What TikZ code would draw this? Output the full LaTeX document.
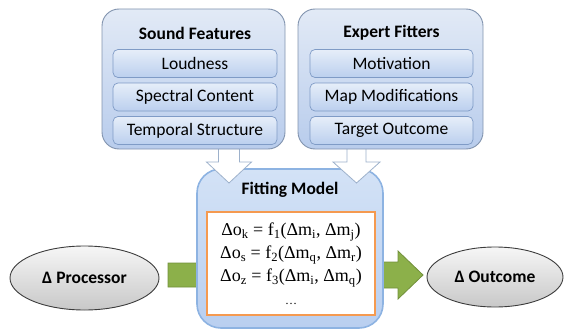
\documentclass[tikz,border=0pt]{standalone}
\usepackage{fontspec}
\setmainfont{Liberation Serif}
\newfontfamily\calfont{Carlito}
\usetikzlibrary{calc,shapes.geometric}
\definecolor{grpborder}{HTML}{8193AE}
\definecolor{grptop}{HTML}{E2EAF6}
\definecolor{grpbot}{HTML}{B8CCEC}
\definecolor{itmborder}{HTML}{7F9BC6}
\definecolor{itmtop}{HTML}{E6EEF9}
\definecolor{itmbot}{HTML}{BBCFEE}
\definecolor{fitborder}{HTML}{8DB3E2}
\definecolor{fittop}{HTML}{D3E2F6}
\definecolor{fitbot}{HTML}{B9CFF0}
\definecolor{orangeb}{HTML}{F59A50}
\definecolor{greenf}{HTML}{8CB04A}
\definecolor{greenb}{HTML}{72903B}
\definecolor{warrowb}{HTML}{9DB1CB}
\definecolor{elltop}{HTML}{F6F6F6}
\definecolor{ellbot}{HTML}{C8C8C8}
\definecolor{ellborder}{HTML}{3C3C3C}
\newcommand\BlkArrow[6]{%
  \coordinate (ba-h) at ($(#3)!#6!(#2)$);
  \draw[#1] ($(#2)!#4!90:(#3)$) -- ($(ba-h)!#4!-90:(#2)$) -- ($(ba-h)!#5!-90:(#2)$) -- (#3)
    -- ($(ba-h)!#5!90:(#2)$) -- ($(ba-h)!#4!90:(#2)$) -- ($(#2)!#4!-90:(#3)$) -- cycle;
}
\tikzset{
  group/.style={draw=grpborder, line width=0.9pt, rounded corners=17pt, top color=grptop, bottom color=grpbot,
    minimum width=183pt, minimum height=140pt, inner sep=0pt},
  itembox/.style={draw=itmborder, line width=0.7pt, rounded corners=5pt, top color=itmtop, bottom color=itmbot,
    minimum width=164pt, minimum height=28pt, inner sep=0pt, font=\calfont\fontsize{17.5}{20}\selectfont},
  grptitle/.style={font=\calfont\bfseries\fontsize{17.5}{20}\selectfont, inner sep=0pt},
  fitbox/.style={draw=fitborder, line width=1.6pt, rounded corners=24pt, top color=fittop, bottom color=fitbot,
    minimum width=186pt, minimum height=159pt, inner sep=0pt},
  eqbox/.style={draw=orangeb, line width=1.2pt, fill=white, minimum width=168pt, minimum height=103pt, inner sep=0pt},
  ellnode/.style={ellipse, draw=ellborder, line width=0.9pt, top color=elltop, bottom color=ellbot,
    inner sep=0pt, font=\calfont\bfseries\fontsize{17.5}{20}\selectfont},
  greenarrow/.style={fill=greenf, draw=greenb, line width=0.8pt},
  whitearrow/.style={fill=white, draw=warrowb, line width=0.8pt},
}
\begin{document}
\begin{tikzpicture}[x=1pt,y=-1pt]
\useasboundingbox (0,0) rectangle (564,329);
% ellipses
\node[ellnode, minimum width=149pt, minimum height=64pt] (proc) at (84.5,278) {Δ Processor};
\node[ellnode, minimum width=136pt, minimum height=60pt] (outc) at (495,277) {Δ Outcome};
% green arrows (behind fitting box)
\coordinate (g1s) at (168,275);
\coordinate (g1e) at (240,275);
\coordinate (g2s) at (360,275);
\coordinate (g2e) at (423,275);
\BlkArrow{greenarrow}{g1s}{g1e}{12pt}{24pt}{25pt}
\BlkArrow{greenarrow}{g2s}{g2e}{13pt}{24pt}{25pt}
% fitting model
\node[fitbox] (fit) at (290,248.5) {};
\node[grptitle] (fittitle) at (290,190) {Fitting Model};
\node[eqbox] (eq) at (291,263.5) {};
\node[align=center, font=\fontsize{18}{23}\selectfont, inner sep=0pt] (eqs) at (291,264) {%
Δo\textsubscript{k} = f\textsubscript{1}(Δm\textsubscript{i}, Δm\textsubscript{j})\\
Δo\textsubscript{s} = f\textsubscript{2}(Δm\textsubscript{q}, Δm\textsubscript{r})\\
Δo\textsubscript{z} = f\textsubscript{3}(Δm\textsubscript{i}, Δm\textsubscript{q})\\
\fontsize{12}{12}\selectfont\dots};
% white arrows
\coordinate (w1s) at (229,146);
\coordinate (w1e) at (229,183);
\coordinate (w2s) at (356.5,146);
\coordinate (w2e) at (356.5,183);
\BlkArrow{whitearrow}{w1s}{w1e}{10.5pt}{22.5pt}{21pt}
\BlkArrow{whitearrow}{w2s}{w2e}{9.5pt}{23.5pt}{21pt}
% top groups
\node[group] (sound) at (193.5,79) {};
\node[grptitle] (soundt) at (195,33) {Sound Features};
\node[itembox] (loud) at (195,63.5) {Loudness};
\node[itembox] (spec) at (195,97) {Spectral Content};
\node[itembox] (temp) at (195,130.5) {Temporal Structure};
\node[group, minimum width=185pt] (expert) at (390.5,79) {};
\node[grptitle] (expertt) at (391.5,33) {Expert Fitters};
\node[itembox, minimum width=163pt] (motiv) at (391.5,63.5) {Motivation};
\node[itembox, minimum width=163pt] (mapm) at (391.5,97) {Map Modifications};
\node[itembox, minimum width=163pt] (targ) at (391.5,130.5) {Target Outcome};
\end{tikzpicture}
\end{document}
